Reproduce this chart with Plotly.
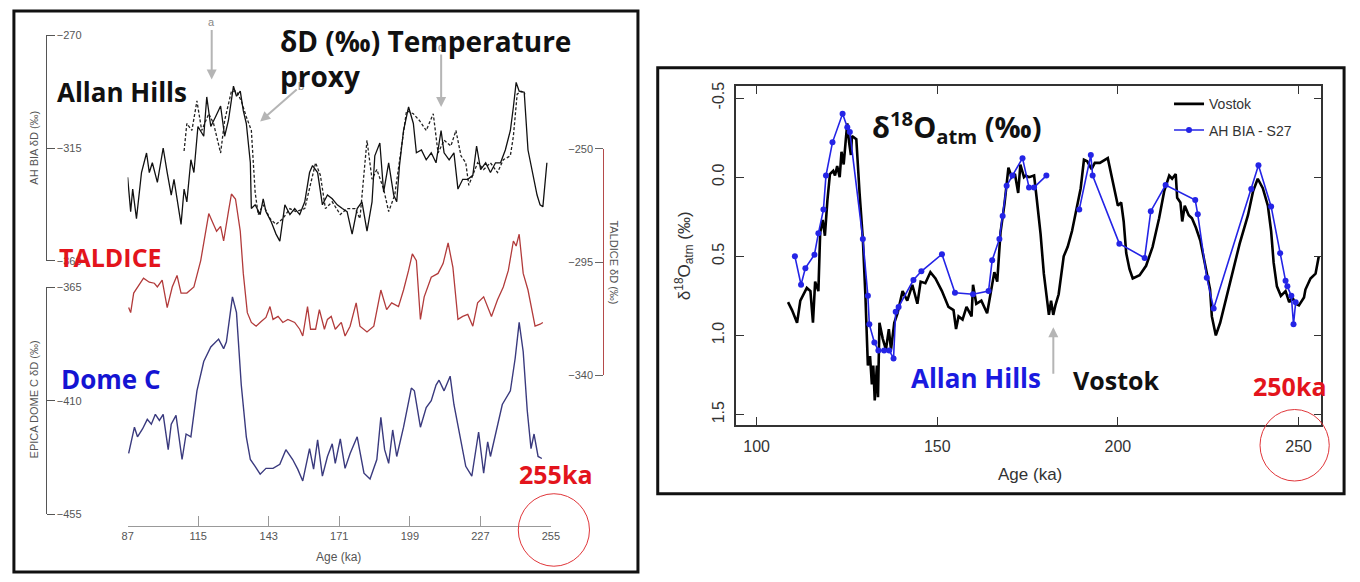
import plotly.graph_objects as go

W, H = 1360, 582
def PX(x): return x / W
def PY(y): return 1 - y / H

# ---------------- Left panel data (dD, permil) ----------------
ah_age = [87.0, 88.2, 89.0, 90.5, 92.5, 94.5, 95.6, 96.8, 98.8, 101.1, 102.7, 104.3, 105.4, 106.6,
          108.2, 109.4, 110.5, 112.1, 113.3, 114.9, 117.2, 118.4, 120.0, 121.9, 123.9, 125.5, 127.0,
          129.0, 130.2, 131.7, 132.9, 134.1, 135.7, 136.1, 137.6, 139.6, 140.8, 141.9, 143.9, 145.9,
          147.4, 149.4, 151.4, 153.3, 155.3, 157.3, 159.2, 160.4, 162.4, 164.3, 166.3, 168.2, 170.2,
          172.2, 174.1, 176.1, 178.1, 180.0, 182.0, 184.0, 185.1, 187.1, 188.6, 190.6, 192.6, 193.8,
          194.9, 196.5, 198.5, 200.4, 201.6, 203.6, 205.5, 207.5, 209.4, 211.4, 212.6, 214.6, 216.5,
          218.1, 220.0, 222.0, 224.0, 225.5, 227.1, 229.1, 231.0, 233.0, 235.0, 236.9, 238.9, 240.1,
          241.2, 242.4, 244.4, 245.9, 247.9, 249.5, 250.7, 251.8, 253.4]
ah_dD = [-326.7, -340.4, -331.4, -343.2, -324.8, -317.0, -324.8, -320.9, -328.7, -315.0, -324.8,
         -333.8, -327.5, -335.3, -345.5, -331.4, -336.5, -319.7, -324.8, -306.4, -310.3, -294.6,
         -306.4, -302.5, -298.2, -310.3, -304.0, -290.3, -294.3, -292.3, -300.1, -305.2, -320.9,
         -339.2, -337.7, -341.6, -335.3, -340.4, -344.3, -349.4, -352.2, -337.7, -341.6, -339.2,
         -341.6, -336.5, -324.8, -322.0, -324.8, -337.7, -333.8, -335.3, -337.7, -339.2, -340.4,
         -349.4, -339.2, -336.5, -348.2, -336.5, -318.1, -313.0, -332.6, -320.9, -333.8, -336.5,
         -322.0, -308.0, -298.6, -305.2, -316.9, -315.8, -319.7, -316.9, -320.9, -308.0, -316.9,
         -319.7, -316.9, -331.4, -327.5, -327.5, -325.9, -314.2, -323.6, -320.9, -324.8, -320.9,
         -320.9, -315.8, -308.0, -298.6, -288.8, -292.3, -292.7, -315.8, -325.9, -333.8, -337.7,
         -338.5, -320.9]

ah2_age = [109.4, 110.5, 112.5, 114.5, 116.4, 119.2, 121.1, 123.9, 125.5, 128.2, 130.2, 132.1,
           134.1, 136.1, 137.6, 138.8, 140.8, 143.5, 145.9, 148.6, 151.4, 153.7, 157.3, 159.6,
           161.6, 163.5, 165.5, 168.2, 171.4, 174.1, 177.3, 179.2, 180.8, 182.0, 184.0, 185.9,
           188.6, 190.6, 193.0, 195.7, 197.7, 200.4, 202.8, 205.5, 208.3, 210.2, 212.6, 215.3,
           217.3, 219.3, 221.2, 222.4, 225.9, 228.3, 231.0, 233.8, 236.1, 238.9, 240.1, 241.6,
           243.2, 244.8]
ah2_dD = [-316.2, -305.2, -308.0, -296.2, -308.0, -301.3, -305.2, -317.0, -304.0, -292.3, -292.3,
          -296.2, -302.5, -308.0, -332.6, -341.6, -337.7, -343.2, -345.5, -343.2, -339.2, -340.4,
          -339.2, -328.7, -320.9, -325.9, -339.2, -336.5, -341.6, -339.2, -339.2, -343.2, -324.8,
          -311.9, -327.5, -323.6, -331.4, -340.4, -333.8, -314.2, -300.1, -301.3, -304.0, -308.0,
          -301.3, -317.0, -311.9, -314.2, -308.0, -318.1, -320.9, -329.9, -320.9, -323.6, -320.9,
          -324.8, -319.7, -318.1, -310.3, -293.5, -292.3, -293.5]

tal_age = [87.4, 88.2, 89.4, 90.9, 93.3, 95.6, 97.6, 98.8, 100.7, 102.7, 104.7, 106.6, 108.2, 110.5,
           113.3, 116.0, 117.2, 119.2, 121.1, 122.3, 123.9, 125.1, 127.0, 128.2, 129.8, 131.7, 132.9,
           134.5, 136.1, 138.0, 140.0, 141.9, 143.5, 144.7, 146.7, 148.6, 150.6, 153.3, 155.3, 156.5,
           158.4, 159.6, 161.6, 163.1, 165.1, 166.3, 167.8, 169.4, 171.8, 173.3, 175.3, 177.7, 179.2,
           182.0, 184.7, 187.5, 189.8, 191.8, 194.5, 196.5, 198.5, 200.0, 201.6, 203.2, 204.7, 207.5,
           210.2, 212.2, 214.2, 216.1, 218.1, 220.0, 222.0, 224.0, 225.9, 228.3, 231.4, 233.8, 236.1,
           238.1, 240.1, 241.2, 242.4, 244.0, 245.9, 248.7, 250.7, 251.8]
tal_dD = [-313.1, -315.1, -307.3, -304.9, -301.4, -303.0, -303.4, -304.9, -302.2, -313.1, -304.9,
          -300.3, -307.3, -307.3, -304.9, -294.4, -287.8, -275.7, -280.0, -282.7, -280.8, -286.6,
          -274.9, -267.9, -269.9, -282.7, -299.5, -315.1, -319.0, -320.5, -318.6, -317.0, -312.7,
          -317.8, -316.6, -319.0, -317.8, -319.0, -321.7, -324.4, -312.7, -321.7, -321.7, -313.9,
          -321.7, -317.8, -316.6, -321.7, -319.0, -324.4, -320.5, -311.2, -320.5, -322.8, -320.5,
          -306.1, -313.9, -311.2, -312.7, -306.1, -298.3, -291.7, -294.4, -317.8, -308.8, -301.0,
          -299.5, -295.6, -287.4, -297.1, -317.8, -316.6, -315.8, -320.5, -311.2, -308.8, -316.6,
          -310.0, -304.9, -298.3, -286.6, -288.6, -283.9, -299.5, -306.1, -320.5, -319.7, -319.0]

edc_age = [87.4, 89.7, 90.9, 92.9, 94.8, 96.4, 98.0, 99.6, 101.1, 103.1, 104.3, 106.2, 108.6, 110.2,
           112.1, 114.5, 117.2, 120.0, 123.1, 125.1, 126.2, 128.6, 130.2, 132.1, 134.1, 135.7, 137.6,
           139.6, 141.9, 144.7, 147.4, 149.8, 152.5, 154.5, 156.5, 159.2, 160.8, 162.4, 164.3, 166.3,
           168.2, 169.4, 171.4, 173.3, 175.3, 178.1, 180.8, 183.2, 185.9, 187.5, 189.0, 190.6, 192.2,
           193.8, 196.5, 198.5, 199.6, 200.8, 203.2, 205.5, 207.5, 209.4, 210.6, 212.6, 215.0, 216.5,
           218.5, 221.2, 223.6, 226.3, 228.3, 229.9, 231.0, 233.0, 235.7, 238.9, 240.8, 242.4, 244.0,
           245.6, 247.1, 248.3, 249.9, 251.4]
edc_dD = [-430.9, -420.5, -424.3, -421.2, -417.4, -419.3, -415.4, -417.8, -415.4, -429.4, -419.3,
          -415.8, -433.3, -423.2, -424.3, -406.1, -394.5, -388.7, -385.6, -389.4, -386.7, -368.9,
          -375.1, -403.8, -424.3, -433.3, -436.0, -439.1, -436.8, -436.8, -435.2, -429.4, -433.3,
          -437.1, -441.8, -429.0, -437.1, -425.5, -439.9, -432.1, -427.1, -434.8, -425.1, -436.8,
          -430.9, -424.3, -438.7, -441.0, -433.3, -416.6, -429.4, -434.8, -421.6, -432.1, -420.5,
          -410.0, -405.0, -406.1, -420.5, -412.7, -410.0, -403.8, -401.9, -406.1, -400.3, -411.5,
          -421.6, -436.0, -439.9, -422.4, -438.7, -426.3, -432.1, -423.2, -411.5, -406.1, -393.3,
          -379.0, -390.6, -413.9, -429.0, -423.2, -432.1, -432.9]

left_ticks_age = [87, 115, 143, 171, 199, 227, 255]
ah_ticks = [-270, -315, -360]
tal_ticks = [-250, -295, -340]
edc_ticks = [-365, -410, -455]

# ---------------- Right panel data (d18Oatm, permil) ----------------
vostok_age = [108.7, 109.8, 111.2, 112.1, 113.9, 114.9, 115.6, 116.2, 117.1, 117.6, 118.3, 118.9,
              119.6, 120.3, 121.2, 121.7, 122.3, 123.0, 123.5, 124.1, 124.7, 125.1, 125.6, 126.1,
              126.4, 127.6, 128.5, 129.4, 130.1, 130.8, 131.4, 131.9, 132.3, 132.7, 133.3, 133.6,
              134.0, 134.9, 135.8, 136.6, 137.2, 138.1, 139.0, 140.4, 141.7, 143.1, 144.5, 145.4,
              146.7, 148.1, 149.5, 151.3, 153.1, 154.5, 155.2, 155.9, 157.0, 158.1, 159.5, 159.9,
              160.8, 162.2, 163.8, 164.8, 165.8, 166.6, 167.5, 168.6, 169.7, 170.6, 171.5, 172.4,
              173.0, 174.0, 174.5, 175.4, 176.8, 177.5, 178.6, 179.5, 180.5, 180.9, 181.5, 182.1,
              182.7, 183.6, 185.0, 186.1, 187.3, 188.4, 189.7, 190.6, 191.5, 192.7, 193.6, 195.0,
              197.2, 198.6, 200.0, 200.9, 201.6, 202.3, 203.2, 204.1, 206.0, 207.8, 209.6, 211.4,
              212.8, 214.2, 215.0, 216.0, 216.4, 217.3, 217.8, 218.5, 219.6, 220.5, 221.6, 222.8,
              224.1, 225.5, 226.0, 227.1, 228.3, 229.6, 231.4, 233.7, 236.0, 237.4, 238.7, 240.1,
              241.5, 242.4, 243.1, 244.0, 245.1, 246.4, 247.4, 248.3, 249.2, 250.1, 251.5, 251.9,
              253.3, 254.7, 255.6]
vostok_d18O = [0.79, 0.84, 0.92, 0.78, 0.70, 0.72, 0.92, 0.66, 0.72, 0.35, 0.27, 0.37,
               0.145, -0.02, -0.04, -0.01, -0.07, 0.0, -0.16, -0.08, -0.24, -0.34, -0.22, -0.14,
               -0.26, -0.24, 0.10, 0.39, 0.74, 1.19, 1.13, 1.31, 1.19, 1.41, 1.19, 1.39,
               0.92, 1.02, 1.09, 0.96, 1.09, 0.92, 0.86, 0.72, 0.78, 0.68, 0.80, 0.66,
               0.67, 0.60, 0.64, 0.72, 0.82, 0.84, 0.96, 0.88, 0.90, 0.82, 0.88, 0.68,
               0.80, 0.78, 0.86, 0.74, 0.60, 0.66, 0.35, 0.17, -0.06, 0.00, -0.02, 0.10,
               -0.08, 0.00, -0.01, 0.0, -0.01, 0.13, 0.36, 0.61, 0.81, 0.87, 0.78, 0.87,
               0.81, 0.74, 0.50, 0.44, 0.34, 0.22, 0.07, -0.11, -0.10, -0.05, -0.09, -0.09,
               -0.12, 0.03, 0.18, 0.16, 0.28, 0.48, 0.58, 0.64, 0.62, 0.56, 0.44, 0.26,
               0.09, -0.01, 0.01, -0.02, 0.13, 0.16, 0.28, 0.18, 0.24, 0.26, 0.32, 0.40,
               0.54, 0.71, 0.88, 1.00, 0.92, 0.80, 0.62, 0.42, 0.24, 0.09, 0.01, 0.07,
               0.18, 0.34, 0.54, 0.69, 0.75, 0.72, 0.79, 0.76, 0.80, 0.81, 0.76, 0.71,
               0.64, 0.61, 0.50]

ahbia_age = [110.6, 112.3, 113.5, 116.0, 117.1, 118.5, 119.2, 121.0, 123.8, 125.1, 125.8, 129.4,
             130.8, 131.2, 132.6, 133.7, 135.3, 136.7, 137.9, 138.5, 139.3, 143.4, 145.6, 151.3,
             154.9, 159.9, 164.2, 165.2, 167.2, 168.1, 169.2, 170.8, 173.6, 175.4, 176.8, 180.2,
             None,
             189.3, 192.5, 193.0, 200.4, 207.4, 209.1, 213.2, 221.4, 222.1, 224.6, 226.5, 236.9,
             238.9, 242.4, 244.9, 246.4, 246.9, 248.0, 248.6, 249.2]
ahbia_d18O = [0.50, 0.68, 0.575, 0.49, 0.355, 0.205, -0.01, -0.22, -0.40, -0.315, -0.285, 0.39,
              0.75, 0.93, 1.045, 1.095, 1.095, 1.095, 1.145, 0.85, 0.82, 0.65, 0.595, 0.487,
              0.73, 0.74, 0.72, 0.525, 0.39, 0.245, 0.055, -0.01, -0.12, 0.065, 0.065, -0.01,
              None,
              0.205, -0.14, -0.01, 0.42, 0.51, 0.215, 0.05, 0.145, 0.235, 0.635, 0.83, 0.075,
              -0.075, 0.185, 0.48, 0.655, 0.69, 0.75, 0.93, 0.79]

right_xticks = [100, 150, 200, 250]
right_yticks = [-0.5, 0.0, 0.5, 1.0, 1.5]
right_yticktext = ["-0.5", "0.0", "0.5", "1.0", "1.5"]

BOLD = "Open Sans"
AX = "Liberation Sans, Arial, sans-serif"

fig = go.Figure()

fig.add_trace(go.Scatter(x=ah2_age, y=ah2_dD, mode="lines", xaxis="x", yaxis="y",
                         line=dict(color="#222", width=1.3, dash="3px,2px"), showlegend=False))
fig.add_trace(go.Scatter(x=ah_age, y=ah_dD, mode="lines", xaxis="x", yaxis="y",
                         line=dict(color="#111", width=1.3), showlegend=False))
fig.add_trace(go.Scatter(x=tal_age, y=tal_dD, mode="lines", xaxis="x", yaxis="y2",
                         line=dict(color="#b23b3b", width=1.3), showlegend=False))
fig.add_trace(go.Scatter(x=edc_age, y=edc_dD, mode="lines", xaxis="x", yaxis="y3",
                         line=dict(color="#3a3a7e", width=1.4), showlegend=False))
fig.add_trace(go.Scatter(x=vostok_age, y=vostok_d18O, mode="lines", xaxis="x2", yaxis="y4",
                         name="Vostok", legendgroup="g1", line=dict(color="#000", width=2.6)))
fig.add_trace(go.Scatter(x=ahbia_age, y=ahbia_d18O, mode="lines+markers", xaxis="x2", yaxis="y4",
                         name="AH BIA - S27", legendgroup="g2", connectgaps=False,
                         line=dict(color="#2424e6", width=1.6),
                         marker=dict(color="#2424e6", size=6)))

gray_ax = dict(showgrid=False, zeroline=False, showline=True)

fig.update_layout(
    width=W, height=H, margin=dict(l=0, r=0, t=0, b=0),
    paper_bgcolor="white", plot_bgcolor="rgba(0,0,0,0)",
    xaxis=dict(**gray_ax, domain=[PX(123), PX(551)], range=[87, 255], anchor="free",
               position=PY(531), tickvals=left_ticks_age, ticks="inside", ticklen=10,
               tickcolor="#999", linecolor="#999", linewidth=1,
               tickfont=dict(family=AX, size=11, color="#555")),
    yaxis=dict(**gray_ax, domain=[PY(260), PY(30)], range=[-360, -270], anchor="free",
               position=PX(40), side="right", tickvals=ah_ticks, ticks="outside", ticklen=8,
               tickcolor="#555", linecolor="#555", linewidth=1,
               tickfont=dict(family=AX, size=11, color="#555")),
    yaxis2=dict(**gray_ax, domain=[PY(377), PY(146)], range=[-340, -250], anchor="free",
                position=PX(604), side="left", tickvals=tal_ticks, ticks="outside", ticklen=8,
                tickcolor="#666", linecolor="#b54a4a", linewidth=1.2,
                tickfont=dict(family=AX, size=11, color="#555")),
    yaxis3=dict(**gray_ax, domain=[PY(519), PY(287)], range=[-455, -365], anchor="free",
                position=PX(40), side="right", tickvals=edc_ticks, ticks="outside", ticklen=8,
                tickcolor="#555", linecolor="#555", linewidth=1,
                tickfont=dict(family=AX, size=11, color="#555")),
    xaxis2=dict(**gray_ax, domain=[PX(738), PX(1330)], range=[94.26, 256.3], anchor="y4",
                tickvals=right_xticks, ticks="inside", ticklen=8, mirror="ticks",
                tickcolor="#333", linecolor="#333", linewidth=1.5, ticklabelstandoff=6,
                tickfont=dict(family=AX, size=16, color="#333")),
    yaxis4=dict(**gray_ax, domain=[PY(428), PY(82)], range=[1.567, -0.574], anchor="x2",
                tickvals=right_yticks, ticktext=right_yticktext, tickangle=-90,
                ticks="inside", ticklen=8, mirror="ticks", ticklabelstandoff=4,
                tickcolor="#333", linecolor="#333", linewidth=1.5,
                tickfont=dict(family=AX, size=16, color="#333")),
    legend=dict(x=PX(1176), y=PY(84), xanchor="left", yanchor="top", traceorder="grouped",
                bgcolor="rgba(0,0,0,0)", font=dict(family=AX, size=14, color="#333"),
                itemwidth=30, tracegroupgap=5),
)

def txt(x, y, s, size, color, family=BOLD, bold=True, xanchor="left", angle=0):
    return dict(x=PX(x), y=PY(y), xref="paper", yref="paper", text=(f"<b>{s}</b>" if bold else s),
                showarrow=False, xanchor=xanchor, yanchor="middle", textangle=angle,
                font=dict(family=family, size=size, color=color))

def arrow(hx, hy, tx, ty, label=""):
    return dict(x=PX(hx), y=PY(hy), xref="paper", yref="paper", ax=tx - hx, ay=ty - hy,
                axref="pixel", ayref="pixel", text=label, showarrow=True, arrowhead=2,
                arrowsize=1, arrowwidth=2, arrowcolor="#b5b5b5",
                font=dict(family=AX, size=11, color="#888"))

ann = [
    # left panel axis titles
    txt(28, 145, "AH BIA δD (‰)", 11, "#555", family=AX, bold=False, xanchor="center", angle=-90),
    txt(28, 402, "EPICA DOME C δD (‰)", 11, "#555", family=AX, bold=False, xanchor="center", angle=-90),
    txt(615, 262, "TALDICE δD (‰)", 11, "#555", family=AX, bold=False, xanchor="center", angle=90),
    txt(336, 563, "Age (ka)", 12, "#555", family=AX, bold=False, xanchor="center"),
    # left arrows
    arrow(208, 75, 208, 18, "a"),
    arrow(257, 118, 298, 82, "b"),
    arrow(440, 103, 440, 43, "c"),
    # left labels
    txt(50, 88, "Allan Hills", 26, "#111"),
    txt(275, 36, "δD (‰) Temperature", 28, "#111"),
    txt(275, 71, "proxy", 28, "#111"),
    txt(52, 256, "TALDICE", 25, "#e3141c"),
    txt(54, 381, "Dome C", 26, "#1414d2"),
    txt(517, 478, "255ka", 25, "#e3141c"),
    # right panel
    txt(1035, 478, "Age (ka)", 17, "#333", family=AX, bold=False, xanchor="center"),
    txt(686, 255, "δ<sup>18</sup>O<sub>atm</sub> (‰)", 17, "#333", family=AX, bold=False,
        xanchor="center", angle=-90),
    txt(874, 124, "δ<sup>18</sup>O<sub>atm</sub> (‰)", 29, "#111"),
    txt(913, 380, "Allan Hills", 26, "#1a1ae0"),
    txt(1077, 382, "Vostok", 25, "#111"),
    txt(1259, 388, "250ka", 25, "#e3141c"),
    arrow(1059, 328, 1059, 376, ""),
]

shapes = [
    dict(type="rect", xref="paper", yref="paper", x0=PX(8), x1=PX(639), y0=PY(578), y1=PY(5),
         line=dict(color="#111", width=3)),
    dict(type="rect", xref="paper", yref="paper", x0=PX(659), x1=PX(1353), y0=PY(498), y1=PY(63),
         line=dict(color="#111", width=3)),
    dict(type="circle", xref="paper", yref="paper", x0=PX(518), x1=PX(590), y0=PY(572), y1=PY(498),
         line=dict(color="#e0363a", width=1)),
    dict(type="circle", xref="paper", yref="paper", x0=PX(1268), x1=PX(1338), y0=PY(485), y1=PY(412),
         line=dict(color="#e0363a", width=1)),
]

fig.update_layout(annotations=ann, shapes=shapes)
fig.write_html("out.html")
